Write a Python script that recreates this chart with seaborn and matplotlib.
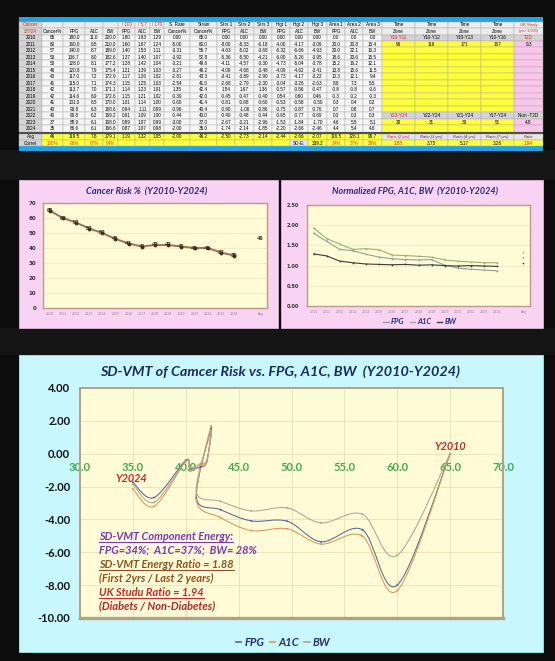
import numpy as np
import pandas as pd
import matplotlib
matplotlib.use("Agg")
import matplotlib.pyplot as plt
import seaborn as sns
from matplotlib.patches import Rectangle, PathPatch
from matplotlib.path import Path
from matplotlib.lines import Line2D
from matplotlib.ticker import FormatStrFormatter

# ---------------- data ----------------
years = list(range(2010, 2025))
cancer_pct = [65, 60, 57, 53, 50, 46, 43, 41, 42, 42, 41, 40, 40, 37, 35]
fpg = [180.0, 160.0, 140.0, 136.7, 128.0, 120.8, 117.0, 115.0, 113.7, 114.6, 101.0, 93.8, 90.8, 88.9, 86.6]
a1c = [11.0, 9.5, 8.7, 8.0, 8.1, 7.9, 7.2, 7.1, 7.0, 6.9, 6.5, 6.3, 6.2, 6.1, 6.1]
bw = [220.0, 210.0, 189.0, 182.6, 177.2, 175.4, 172.9, 174.3, 171.1, 172.6, 170.0, 168.6, 169.2, 168.0, 166.6]
fpg_norm = [1.80, 1.60, 1.40, 1.37, 1.28, 1.21, 1.17, 1.15, 1.14, 1.15, 1.01, 0.94, 0.91, 0.89, 0.87]
a1c_norm = [1.93, 1.67, 1.53, 1.40, 1.42, 1.39, 1.26, 1.25, 1.23, 1.21, 1.14, 1.11, 1.09, 1.07, 1.07]
bw_norm = [1.29, 1.24, 1.11, 1.07, 1.04, 1.03, 1.02, 1.03, 1.01, 1.02, 1.00, 0.99, 1.00, 0.99, 0.98]
s_rate = [0.00, -5.00, -3.31, -3.92, -3.21, -3.27, -2.81, -2.54, 1.35, -0.39, -0.60, -0.96, -0.44, -3.00, -2.00]
strain = [65.0, 60.0, 56.7, 52.8, 49.6, 46.2, 43.3, 41.0, 42.4, 42.0, 41.4, 40.4, 40.0, 37.0, 35.0]
strs_fpg = [0.00, -8.00, -4.63, -5.36, -4.11, -4.09, -3.41, -2.68, 1.54, -0.45, -0.81, -0.90, -0.40, -2.67, -1.74]
strs_a1c = [0.00, -8.33, -5.02, -5.50, -4.57, -4.68, -3.89, -2.79, 1.67, -0.47, -0.68, -1.06, -0.48, -3.21, -2.14]
strs_bw = [0.00, -6.18, -3.68, -4.21, -3.30, -3.48, -2.90, -2.30, 1.36, -0.40, -0.60, -0.86, -0.44, -2.96, -1.85]
hgt_fpg = [0.00, -4.00, -6.32, -6.00, -4.73, -4.09, -3.73, -3.04, -0.57, 0.54, -0.53, -0.75, -0.65, -1.53, -2.20]
hgt_a1c = [0.00, -4.17, -6.66, -5.26, -5.04, -4.62, -4.17, -3.26, -0.56, 0.60, -0.58, -0.87, -0.77, -1.84, -2.66]
hgt_bw = [0.00, -3.09, -4.93, -3.95, -3.78, -3.41, -3.22, -2.63, -0.47, 0.46, -0.50, -0.76, -0.69, -1.70, -2.46]
area_fpg = [0.0, 20.0, 20.0, 18.6, 15.2, 13.8, 10.3, 8.8, -0.8, -0.3, 0.3, 0.7, 0.3, 4.6, 4.4]
area_a1c = [0.0, 20.8, 22.1, 20.6, 16.2, 15.6, 12.1, 7.3, -0.8, -0.2, 0.4, 0.8, 0.3, 5.5, 5.4]
area_bw = [0.0, 15.4, 16.3, 15.5, 12.1, 11.5, 9.4, 5.5, -0.6, -0.3, 0.2, 0.7, 0.3, 5.1, 4.8]

avg_cancer = 46
avg_norm = [1.19, 1.32, 1.05]
avg_row = ["Avg", "46", "119.5", "7.8", "179.1", "1.19", "1.32", "1.05", "-2.00", "46.2",
           "-2.50", "-2.73", "-2.14", "-2.44", "-2.66", "-2.07", "116.5", "126.1", "96.7"]
correl_vals = ["100%", "96%", "97%", "94%"]
sde_vals = ["SD-E:", "339.2", "34%", "37%", "28%"]
zone_start = ["Y10-Y11", "Y10-Y12", "Y10-Y13", "Y10-Y16", "T2D"]
zone_start_vals = ["96", "116", "171", "167", "9.3"]
zone_end = ["Y23-Y24", "Y22-Y24", "Y21-Y24", "Y17-Y24", "Non -T2D"]
zone_end_vals = ["30", "31", "33", "51", "4.8"]
ratio_labels = ["Ratio (2 yrs)", "Ratio (3 yrs)", "Ratio (4 yrs)", "Ratio (7 yrs)", "Ratio"]
ratio_vals = ["1.88", "3.75", "5.17", "3.26", "1.94"]

hdr1 = ["Cancer", "", "", "", "", "/ 100", "/ 5.7", "/ 170", "S. Rate", "Strain", "Strs 1", "Strs 2",
        "Strs 3", "Hgt 1", "Hgt 2", "Hgt 3", "Area 1", "Area 2", "Area 3", "Time", "Time", "Time", "Time", "UK Study"]
hdr2 = ["3/7/24", "Cancer%", "FPG", "A1C", "BW", "FPG", "A1C", "BW", "Cancer%", "Cancer%", "FPG", "A1C",
        "BW", "FPG", "A1C", "BW", "FPG", "A1C", "BW", "Zone", "Zone", "Zone", "Zone", "(per 1,000)"]

cat_labels = [str(y) for y in years] + ["", "Avg"]
sd_legend = ["FPG", "A1C", "BW"]

# ---------------- figure ----------------
W, H = 555, 661
fig = plt.figure(figsize=(W / 100, H / 100), dpi=100)
fig.patch.set_facecolor("#0c0c0c")

def px_axes(x0, y0, x1, y1, z=2):
    return fig.add_axes([x0 / W, 1 - y1 / H, (x1 - x0) / W, (y1 - y0) / H], zorder=z)

bg = fig.add_axes([0, 0, 1, 1], zorder=0)
bg.set_xlim(0, W); bg.set_ylim(H, 0); bg.axis("off")

PINK = "#f9d3f3"
CYAN = "#c8f7fd"
PLOTBG = "#fffbd6"
NAVY = "#2a2c6e"
LATO = ["Lato", "DejaVu Sans"]

bg.add_patch(Rectangle((0, 150), W, 30, fc="#161616", ec="none"))
bg.add_patch(Rectangle((0, 328), W, 27, fc="#141414", ec="none"))
bg.add_patch(Rectangle((19, 180), 259, 148, fc=PINK, ec="#e0b8dc", lw=0.6))
bg.add_patch(Rectangle((281, 180), 262, 148, fc=PINK, ec="#e0b8dc", lw=0.6))
bg.add_patch(Rectangle((19, 355), 524, 297, fc=CYAN, ec="#a8e8f0", lw=0.6))

# ---------------- table ----------------
edges = [19, 42, 63, 85, 103, 118, 135, 150, 164, 190, 217, 235, 254, 272, 290, 308, 327, 345,
         363, 382, 415, 448, 481, 514, 543]
TF = ["Liberation Sans", "DejaVu Sans"]
FS = 3.3
bg.add_patch(Rectangle((19, 17), 524, 4.5, fc="#22a3e3", ec="none"))
bg.add_patch(Rectangle((19, 146), 524, 4.5, fc="#22a3e3", ec="none"))
bg.add_patch(Rectangle((19, 131.6), 524, 2.0, fc="#3a3a3a", ec="none"))

def cell(c, top, bot, text="", fc="#f6f6f6", color="black", weight="normal", style="normal", fs=FS):
    x0, x1 = edges[c], edges[c + 1]
    bg.add_patch(Rectangle((x0, top), x1 - x0, bot - top, fc=fc, ec="#a8a8a8", lw=0.3))
    if text:
        bg.text((x0 + x1) / 2, (top + bot) / 2 + 0.2, text, ha="center", va="center", fontsize=fs,
                color=color, fontweight=weight, fontstyle=style, family=TF)

GRAY = "#d4d4d4"
YEL = "#ffff3a"
TPINK = "#f8c6ea"
RED = "#e02020"
r1, r2 = (21.5, 28.0), (28.0, 34.5)
for c in range(24):
    col = RED if c in (0, 5, 6, 7, 23) else "black"
    f = GRAY if c == 0 else "#ececec"
    cell(c, r1[0], r1[1], hdr1[c], fc=f, color=col, fs=FS if c != 23 else 3.0)
    col2 = RED if c in (0, 23) else "black"
    cell(c, r2[0], r2[1], hdr2[c], fc=f, color=col2, fs=FS if c != 23 else 2.8)

pitch = 6.47
cols_fmt = [
    (cancer_pct, "%d"), (fpg, "%.1f"), (a1c, "%.1f"), (bw, "%.1f"),
    (fpg_norm, "%.2f"), (a1c_norm, "%.2f"), (bw_norm, "%.2f"), (s_rate, "%.2f"), (strain, "%.1f"),
    (strs_fpg, "%.2f"), (strs_a1c, "%.2f"), (strs_bw, "%.2f"),
    (hgt_fpg, "%.2f"), (hgt_a1c, "%.2f"), (hgt_bw, "%.2f"),
    (area_fpg, "%.1f"), (area_a1c, "%.1f"), (area_bw, "%.1f"),
]
for i, yr in enumerate(years):
    top = 34.5 + i * pitch
    bot = top + pitch
    cell(0, top, bot, str(yr), fc=GRAY)
    for j, (arr, fmt) in enumerate(cols_fmt):
        cell(j + 1, top, bot, fmt % arr[i])
    for k in range(5):
        c = 19 + k
        body = TPINK if k == 4 else YEL
        if i == 0:
            cell(c, top, bot, zone_start[k], fc=GRAY, color=RED if k in (0, 4) else "black")
        elif i == 1:
            cell(c, top, bot, zone_start_vals[k], fc=body)
        elif i == 12:
            cell(c, top, bot, zone_end[k], fc=GRAY, color=RED if k == 0 else "black")
        elif i == 13:
            cell(c, top, bot, zone_end_vals[k], fc=body)
        else:
            cell(c, top, bot, "", fc=body)

ra, rc = (133.6, 139.8), (139.8, 146.0)
cell(0, ra[0], ra[1], avg_row[0], fc=GRAY)
for j in range(1, 19):
    cell(j, ra[0], ra[1], avg_row[j], fc=YEL)
for k in range(5):
    cell(19 + k, ra[0], ra[1], ratio_labels[k], fc="#e6e6e6", color=RED if k == 0 else "#6a2a2a",
         style="italic", fs=3.0)
cell(0, rc[0], rc[1], "Correl", fc=GRAY)
for j in range(1, 19):
    txt, col, f = "", "black", YEL
    if 1 <= j <= 4:
        txt, col = correl_vals[j - 1], "#e0500a"
    elif j == 14:
        txt, f = sde_vals[0], "#e6e6e6"
    elif j == 15:
        txt = sde_vals[1]
    elif j >= 16:
        txt, col = sde_vals[j - 14], "#e0500a"
    cell(j, rc[0], rc[1], txt, fc=f, color=col)
for k in range(5):
    cell(19 + k, rc[0], rc[1], ratio_vals[k], fc=YEL, color=RED if k in (0, 4) else "black")

# ---------------- chart 1: cancer risk ----------------
ax1 = px_axes(43, 203, 267, 308)
ax1.set_facecolor(PLOTBG)
pos = np.arange(len(cat_labels))
df1 = pd.DataFrame({"pos": pos[:15], "risk": cancer_pct})
sns.lineplot(data=df1, x="pos", y="risk", ax=ax1, color="#a0705a", lw=1.4, marker="o",
             markersize=2.0, markerfacecolor="#4a3020", markeredgecolor="#4a3020")
for p, v in zip(pos[:15], cancer_pct):
    ax1.annotate(str(v), (p, v), ha="center", va="center", fontsize=4.2, fontweight="bold",
                 color="#3a2a1a", family=TF)
ax1.annotate(str(avg_cancer), (16, avg_cancer), ha="center", va="center", fontsize=4.2,
             fontweight="bold", color="#3a2a1a", family=TF)
ax1.set_xlim(-0.5, 16.5); ax1.set_ylim(0, 70)
ax1.set_yticks(range(0, 71, 10))
ax1.set_xticks(pos); ax1.set_xticklabels(cat_labels)
ax1.tick_params(axis="x", labelsize=2.3, labelcolor="#8a8a8a", length=0, pad=3)
ax1.tick_params(axis="y", labelsize=4.0, labelcolor="#333333", length=0, pad=5)
for lab in ax1.get_yticklabels():
    lab.set_fontweight("bold")
ax1.grid(axis="y", color="#eee6bc", lw=0.5)
ax1.set_axisbelow(True)
for s in ax1.spines.values():
    s.set_color("#c09a86"); s.set_linewidth(1.0)
ax1.set_xlabel(""); ax1.set_ylabel("")

# ---------------- chart 2: normalized ----------------
ax2 = px_axes(307, 205, 530, 306)
ax2.set_facecolor(PLOTBG)
norm_colors = {"FPG": "#8ea39e", "A1C": "#9fb070", "BW": "#3c3c3c"}
df2 = pd.DataFrame({
    "pos": list(pos[:15]) * 3,
    "value": fpg_norm + a1c_norm + bw_norm,
    "series": ["FPG"] * 15 + ["A1C"] * 15 + ["BW"] * 15,
})
sns.lineplot(data=df2, x="pos", y="value", hue="series", palette=norm_colors, ax=ax2, lw=0.8,
             marker="o", markersize=1.3, markeredgecolor="none", legend=False)
df2a = pd.DataFrame({"pos": [16] * 3, "value": avg_norm, "series": ["FPG", "A1C", "BW"]})
sns.scatterplot(data=df2a, x="pos", y="value", hue="series", palette=norm_colors, ax=ax2,
                s=1.5, edgecolor="none", legend=False)
ax2.set_xlim(-0.5, 16.5); ax2.set_ylim(0, 2.5)
ax2.set_yticks(np.arange(0, 2.51, 0.5))
ax2.yaxis.set_major_formatter(FormatStrFormatter("%.2f"))
ax2.set_xticks(pos); ax2.set_xticklabels(cat_labels)
ax2.tick_params(axis="x", labelsize=2.3, labelcolor="#8a8a8a", length=0, pad=3)
ax2.tick_params(axis="y", labelsize=3.6, labelcolor="#333333", length=0, pad=6)
for lab in ax2.get_yticklabels():
    lab.set_fontweight("bold")
ax2.grid(axis="y", color="#eee6bc", lw=0.5)
ax2.set_axisbelow(True)
for s in ax2.spines.values():
    s.set_color("#c09a86"); s.set_linewidth(1.0)
ax2.set_xlabel(""); ax2.set_ylabel("")
fig.legend(handles=[Line2D([0], [0], color=norm_colors[k], lw=1) for k in sd_legend], labels=sd_legend,
           loc="center", bbox_to_anchor=(420 / W, 1 - 322 / H), ncol=3, frameon=False,
           prop={"family": LATO, "weight": "bold", "style": "italic", "size": 5.5},
           handlelength=0.7, columnspacing=0.7, handletextpad=0.3, labelcolor=NAVY)

# ---------------- chart 3: SD-VMT ----------------
ax3 = px_axes(80, 388, 503, 618)
ax3.set_facecolor(PLOTBG)
sd_colors = {"FPG": "#506a94", "A1C": "#dc9652", "BW": "#b0a494"}

def smooth_path(xs, ys):
    P = np.column_stack([xs, ys]).astype(float)
    n = len(P)
    verts = [P[0]]
    codes = [Path.MOVETO]
    for i in range(n - 1):
        p0 = P[i - 1] if i > 0 else P[i]
        p1, p2 = P[i], P[i + 1]
        p3 = P[i + 2] if i + 2 < n else P[i + 1]
        verts += [p1 + (p2 - p0) / 6.0, p2 - (p3 - p1) / 6.0, p2]
        codes += [Path.CURVE4] * 3
    return Path(verts, codes)

df3 = pd.DataFrame({
    "strain": strain * 3,
    "stress": strs_fpg + strs_a1c + strs_bw,
    "series": ["FPG"] * 15 + ["A1C"] * 15 + ["BW"] * 15,
})
sns.scatterplot(data=df3, x="strain", y="stress", hue="series", palette=sd_colors, ax=ax3,
                s=2.0, edgecolor="none", legend=False, zorder=4)
for name, arr in zip(sd_legend, [strs_fpg, strs_a1c, strs_bw]):
    ax3.add_patch(PathPatch(smooth_path(strain, arr), fc="none", ec=sd_colors[name], lw=0.75, zorder=3))
ax3.set_xlim(30, 70); ax3.set_ylim(-10, 4)
ax3.set_xticks(np.arange(30, 70.1, 5)); ax3.set_yticks(np.arange(-10, 4.1, 2))
ax3.xaxis.set_major_formatter(FormatStrFormatter("%.1f"))
ax3.yaxis.set_major_formatter(FormatStrFormatter("%.2f"))
ax3.grid(color="#e8e0b4", lw=0.6)
ax3.set_axisbelow(True)
ax3.spines["bottom"].set_position(("data", 0))
ax3.spines["bottom"].set_color("none")
for s in ["top", "left", "right"]:
    ax3.spines[s].set_color("#aaa48a"); ax3.spines[s].set_linewidth(1.4)
ax3.axhline(-10, color="#aaa48a", lw=2.4, clip_on=False, zorder=5)
ax3.tick_params(axis="x", labelsize=8, labelcolor="#3fae4a", length=0, pad=6)
ax3.tick_params(axis="y", labelsize=8, labelcolor="#111111", length=0, pad=7)
for lab in ax3.get_xticklabels() + ax3.get_yticklabels():
    lab.set_fontweight("bold")
    lab.set_family(LATO)
ax3.set_xlabel(""); ax3.set_ylabel("")

fig.legend(handles=[Line2D([0], [0], color=sd_colors[k], lw=1.2) for k in sd_legend], labels=sd_legend,
           loc="center", bbox_to_anchor=(283 / W, 1 - 642 / H), ncol=3, frameon=False,
           prop={"family": LATO, "weight": "bold", "style": "italic", "size": 8},
           handlelength=0.5, columnspacing=0.5, handletextpad=0.25, labelcolor=NAVY)

# ---------------- texts overlay ----------------
top = fig.add_axes([0, 0, 1, 1], zorder=10)
top.set_xlim(0, W); top.set_ylim(H, 0); top.axis("off"); top.patch.set_alpha(0)
top.text(147, 192, "Cancer Risk %  (Y2010-Y2024)", ha="center", va="center", fontsize=6.7,
         fontweight="bold", fontstyle="italic", color=NAVY, family=LATO)
top.text(415, 192, "Normalized FPG, A1C, BW  (Y2010-Y2024)", ha="center", va="center", fontsize=6.5,
         fontweight="bold", fontstyle="italic", color=NAVY, family=LATO)
top.text(280, 372, "SD-VMT of Camcer Risk vs. FPG, A1C, BW  (Y2010-Y2024)", ha="center", va="center",
         fontsize=10.4, fontweight="bold", fontstyle="italic", color="#1f2a5e", family=LATO)
top.text(450, 447, "Y2010", ha="center", va="center", fontsize=7.8, fontweight="bold",
         fontstyle="italic", color="#cc2a2a", family=LATO)
top.text(131, 478, "Y2024", ha="center", va="center", fontsize=7.8, fontweight="bold",
         fontstyle="italic", color="#cc2a2a", family=LATO)

note_lines = ["SD-VMT Component Energy:", "FPG=34%;  A1C=37%;  BW= 28%", "SD-VMT Energy Ratio = 1.88",
              "(First 2yrs / Last 2 years)", "UK Studu Ratio = 1.94", "(Diabets / Non-Diabetes)"]
note_colors = ["#7a38b8", "#7a38b8", "#8a5420", "#8a5420", "#cc2a2a", "#b02828"]
note_under = [True, False, True, False, True, False]
note_y = [536, 550, 564, 578, 592, 606]
texts = []
for t, c, yy in zip(note_lines, note_colors, note_y):
    texts.append(top.text(99, yy, t, ha="left", va="center", fontsize=7.9, fontweight="bold",
                          fontstyle="italic", color=c, family=LATO))
fig.canvas.draw()
inv = top.transData.inverted()
for t, u, c, yy in zip(texts, note_under, note_colors, note_y):
    if u:
        bb = t.get_window_extent()
        (xa, _), (xb, _) = inv.transform([[bb.x0, bb.y0], [bb.x1, bb.y1]])
        top.plot([xa, xb], [yy + 5.5, yy + 5.5], color=c, lw=0.8)

fig.savefig("out.png", dpi=100, facecolor=fig.get_facecolor())
